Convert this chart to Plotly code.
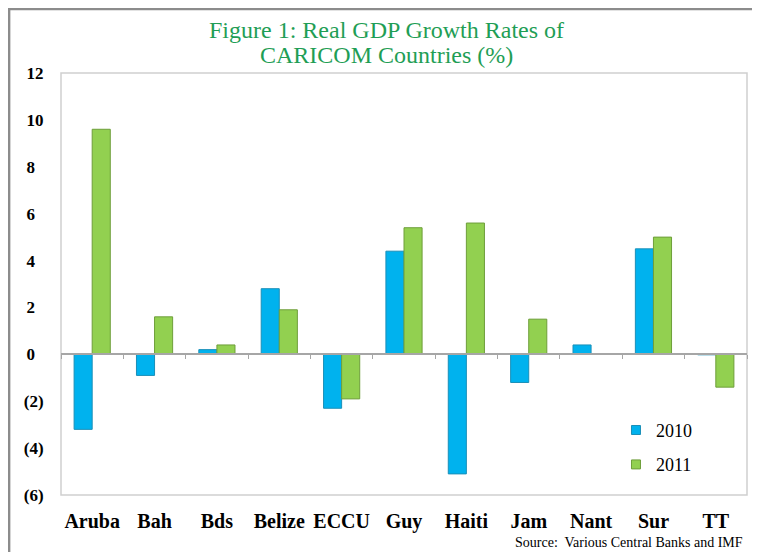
import plotly.graph_objects as go

countries = ["Aruba", "Bah", "Bds", "Belize", "ECCU", "Guy", "Haiti", "Jam", "Nant", "Sur", "TT"]
gdp_2010 = [-3.2, -0.9, 0.2, 2.8, -2.3, 4.4, -5.1, -1.2, 0.4, 4.5, -0.02]
gdp_2011 = [9.6, 1.6, 0.4, 1.9, -1.9, 5.4, 5.6, 1.5, None, 5.0, -1.4]
y_tickvals = [-6, -4, -2, 0, 2, 4, 6, 8, 10, 12]
y_ticktext = ["(6)", "(4)", "(2)", "0\u00a0\u00a0", "2\u00a0\u00a0", "4\u00a0\u00a0", "6\u00a0\u00a0",
              "8\u00a0\u00a0", "10", "12"]
title_lines = ["Figure 1: Real GDP Growth Rates of", "CARICOM Countries (%)"]
source_text = "Source:  Various Central Banks and IMF"

serif = "Liberation Serif, Times New Roman, serif"
blue, blue_edge = "#00B2EE", "#1a8fb8"
green, green_edge = "#92D050", "#6e9e3a"

fig = go.Figure()
fig.add_trace(go.Bar(
    name="2010", x=countries, y=gdp_2010, showlegend=False,
    marker=dict(color=blue, line=dict(color=blue_edge, width=1)),
))
fig.add_trace(go.Bar(
    name="2011", x=countries, y=gdp_2011, showlegend=False,
    marker=dict(color=green, line=dict(color=green_edge, width=1)),
))
# legend entries with small square keys
for nm, col, edge, grp in [("2010", blue, blue_edge, "a"), ("2011", green, green_edge, "b")]:
    fig.add_trace(go.Scatter(
        name=nm, x=[None], y=[None], mode="markers", legendgroup=grp,
        marker=dict(symbol="square", size=9, color=col, line=dict(color=edge, width=1)),
    ))
# invisible trace carrying the zero-line axis with category-boundary ticks
fig.add_trace(go.Scatter(x=countries, y=[0] * len(countries), xaxis="x2", yaxis="y",
                         mode="markers", marker=dict(opacity=0), showlegend=False,
                         hoverinfo="skip"))

fig.update_layout(
    width=752, height=544,
    paper_bgcolor="white", plot_bgcolor="white",
    margin=dict(l=53, r=13, t=65, b=57, autoexpand=False),
    barmode="group", bargap=0.42, bargroupgap=0,
    xaxis=dict(
        categoryorder="array", categoryarray=countries,
        range=[-0.5, len(countries) - 0.5], autorange=False,
        showgrid=False, zeroline=False, showline=False, automargin=False,
        ticks="outside", ticklen=8, tickcolor="rgba(0,0,0,0)",
        tickfont=dict(family=serif, size=20, color="black", weight="bold"),
    ),
    xaxis2=dict(
        overlaying="x", matches="x", anchor="free", position=1/3, automargin=False,
        showline=True, linecolor="#A6A6A6", linewidth=1.5,
        ticks="outside", ticklen=4, tickcolor="#A6A6A6", tickson="boundaries",
        showticklabels=False, showgrid=False, zeroline=False,
    ),
    yaxis=dict(
        range=[-6, 12], tickvals=y_tickvals, ticktext=y_ticktext,
        showgrid=False, zeroline=False, showline=False, automargin=False,
        ticks="outside", ticklen=13, tickcolor="rgba(0,0,0,0)",
        tickfont=dict(family=serif, size=17, color="black", weight="bold"),
    ),
    legend=dict(
        x=0.809, y=0.113, xanchor="left", yanchor="middle",
        font=dict(family=serif, size=18, color="black"),
        bgcolor="rgba(0,0,0,0)", tracegroupgap=8, itemwidth=30,
    ),
    shapes=[
        # plot box
        dict(type="rect", xref="paper", yref="paper", x0=0, y0=0, x1=1, y1=1,
             line=dict(color="#D0D0D0", width=1.5), layer="below"),
        # outer frame lines
        dict(type="line", xref="paper", yref="paper", x0=-0.076, x1=-0.076, y0=-0.2, y1=1.16,
             line=dict(color="#8C8C8C", width=3)),
        dict(type="line", xref="paper", yref="paper", x0=-0.078, x1=1.017, y0=1.152, y1=1.152,
             line=dict(color="#8C8C8C", width=3)),
        dict(type="line", xref="paper", yref="paper", x0=1.0165, x1=1.0165, y0=-0.2, y1=1.152,
             line=dict(color="#CFCFCF", width=1.5)),
    ],
    annotations=[
        dict(text=title_lines[0], xref="paper", yref="paper", x=0.4745, y=1.1019,
             xanchor="center", yanchor="middle", showarrow=False,
             font=dict(family=serif, size=24, color="#1F9E55")),
        dict(text=title_lines[1], xref="paper", yref="paper", x=0.4745, y=1.0427,
             xanchor="center", yanchor="middle", showarrow=False,
             font=dict(family=serif, size=24, color="#1F9E55")),
        dict(text=source_text, xref="paper", yref="paper",
             x=0.997, y=-0.1137, xanchor="right", yanchor="middle", showarrow=False,
             font=dict(family=serif, size=14, color="black")),
    ],
)

fig.write_html("out.html")
